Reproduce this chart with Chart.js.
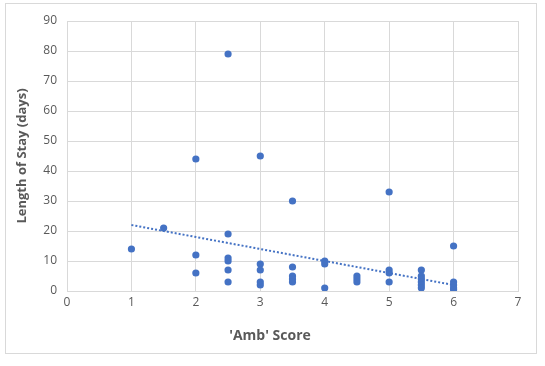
<!DOCTYPE html>
<html>
<head>
<meta charset="utf-8">
<script src="https://cdn.jsdelivr.net/npm/chart.js@4"></script>
<style>
  html, body { margin: 0; padding: 0; background: #fff; }
  #wrap { width: 545px; height: 366px; }
</style>
</head>
<body>
<div id="wrap"><canvas id="chart"></canvas></div>
<script>
// values
const ambScore = [1, 1.5, 2, 2, 2, 2.5, 2.5, 2.5, 2.5, 2.5, 2.5, 3, 3, 3, 3, 3,
  3.5, 3.5, 3.5, 3.5, 3.5, 4, 4, 4, 4.5, 4.5, 4.5, 5, 5, 5, 5,
  5.5, 5.5, 5.5, 5.5, 5.5, 5.5, 6, 6, 6, 6, 6];
const stayDays = [14, 21, 44, 12, 6, 79, 19, 11, 10, 7, 3, 45, 9, 7, 3, 2,
  30, 8, 5, 4, 3, 10, 9, 1, 5, 4, 3, 33, 7, 6, 3,
  7, 5, 4, 3, 2, 1, 15, 3, 2, 1, 0.5];
// dotted linear trendline, ends
const trendX = [1, 6];
const trendY = [22, 2];

const xTitle = "'Amb' Score";
const yTitle = "Length of Stay (days)";

const blue = '#4472C4';
const grey = '#595959';
const gridGrey = '#d9d9d9';
const font = "Open Sans, 'Liberation Sans', sans-serif";

// outer chart frame, plus the x title which sits a bit left of the plot centre
const frame = {
  id: 'frame',
  beforeDraw(chart) {
    const ctx = chart.ctx;
    ctx.save();
    ctx.fillStyle = '#fff';
    ctx.fillRect(0, 0, chart.width, chart.height);
    ctx.strokeStyle = gridGrey;
    ctx.lineWidth = 1;
    ctx.strokeRect(5.5, 3.5, 531, 350);
    ctx.restore();
  },
  afterDraw(chart) {
    const ctx = chart.ctx;
    ctx.save();
    ctx.fillStyle = grey;
    ctx.font = 'bold 14px ' + font;
    ctx.textAlign = 'center';
    ctx.textBaseline = 'middle';
    ctx.fillText(xTitle, 270, 336);
    ctx.restore();
  }
};

new Chart(document.getElementById('chart'), {
  type: 'scatter',
  data: {
    datasets: [{
      label: 'Length of Stay',
      data: ambScore.map((x, i) => ({ x: x, y: stayDays[i] })),
      backgroundColor: blue,
      borderColor: blue,
      pointRadius: 3.6,
      pointHoverRadius: 3.6,
      borderWidth: 0
    }, {
      type: 'line',
      label: 'Linear trend',
      data: trendX.map((x, i) => ({ x: x, y: trendY[i] })),
      borderColor: blue,
      borderWidth: 2,
      borderDash: [2, 2],
      pointRadius: 0,
      fill: false
    }]
  },
  options: {
    responsive: true,
    maintainAspectRatio: false,
    animation: false,
    layout: { padding: { left: 10, right: 27, top: 21, bottom: 17 } },
    plugins: {
      legend: { display: false },
      tooltip: { enabled: false }
    },
    scales: {
      x: {
        type: 'linear',
        min: 0,
        max: 7,
        ticks: { stepSize: 1, color: grey, font: { family: font, size: 12 }, padding: 4 },
        grid: { color: gridGrey, drawTicks: false },
        border: { color: gridGrey },
        title: { display: false },
        afterFit(scale) { scale.height = 58; }
      },
      y: {
        min: 0,
        max: 90,
        ticks: { stepSize: 10, color: grey, font: { family: font, size: 12 }, padding: 10 },
        grid: { color: gridGrey, drawTicks: false },
        border: { color: gridGrey },
        title: {
          display: true,
          text: yTitle,
          color: grey,
          font: { family: font, size: 13, weight: 'bold' },
          padding: { bottom: 8 }
        },
        afterFit(scale) { scale.width = 57; }
      }
    }
  },
  plugins: [frame]
});
</script>
</body>
</html>
